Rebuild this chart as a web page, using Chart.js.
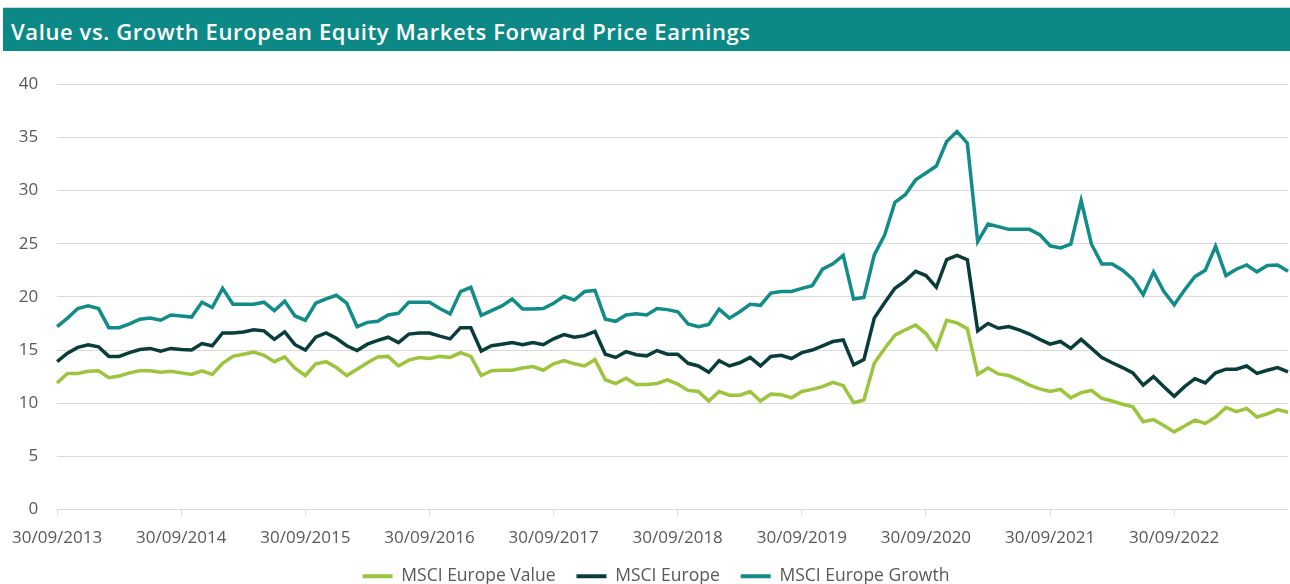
<!DOCTYPE html>
<html>
<head>
<meta charset="utf-8">
<script src="https://cdn.jsdelivr.net/npm/chart.js@4.4.0/dist/chart.umd.min.js"></script>
<style>
  html, body { margin: 0; padding: 0; background: #fff; overflow: hidden; }
  body { width: 1290px; height: 584px; position: relative; font-family: 'Open Sans', sans-serif; }
  #titre {
    position: absolute; left: 3px; top: 7px; width: 1287px; height: 40px;
    padding-top: 3px; line-height: 40px;
    border-top: 1px solid #d4d4d4;
    background: #0c8986; color: #fff;
    font-size: 22px; font-weight: 600; letter-spacing: 0.6px;
    box-sizing: content-box; white-space: nowrap;
  }
  #titre span { padding-left: 8px; }
  #wrap { position: absolute; left: 0; top: 55px; width: 1290px; height: 540px; }
</style>
</head>
<body>
<div id="titre"><span>Value vs. Growth European Equity Markets Forward Price Earnings</span></div>
<div id="wrap"><canvas id="grafico"></canvas></div>
<script>
// monthly, from 30/09/2013 to 31/08/2023
const inicioAno = 2013;
const inicioMes = 9;
const totalMeses = 120;

const nomesSeries = ["MSCI Europe Value", "MSCI Europe", "MSCI Europe Growth"];
const coresSeries = ["#9cc43c", "#083d3b", "#128c89"];

const valorValue = [
  11.9, 12.8, 12.8, 13.0, 13.05, 12.4, 12.55, 12.85, 13.05, 13.05, 12.9, 13.0,
  12.85, 12.7, 13.05, 12.7, 13.75, 14.4, 14.6, 14.8, 14.5, 13.9, 14.35, 13.3,
  12.6, 13.7, 13.9, 13.35, 12.6, 13.2, 13.8, 14.35, 14.4, 13.5, 14.05, 14.3,
  14.2, 14.4, 14.3, 14.75, 14.4, 12.6, 13.05, 13.1, 13.1, 13.3, 13.45, 13.1,
  13.7, 14.0, 13.7, 13.5, 14.1, 12.2, 11.85, 12.35, 11.75, 11.75, 11.85, 12.2,
  11.8, 11.2, 11.1, 10.2, 11.1, 10.75, 10.75, 11.1, 10.2, 10.85, 10.8, 10.5,
  11.1, 11.3, 11.55, 11.95, 11.65, 10.05, 10.3, 13.75, 15.15, 16.4, 16.9, 17.35,
  16.55, 15.15, 17.8, 17.55, 17.0, 12.7, 13.3, 12.75, 12.6, 12.2, 11.7, 11.35,
  11.1, 11.3, 10.5, 11.0, 11.2, 10.45, 10.2, 9.9, 9.65, 8.25, 8.45, 7.9,
  7.3, 7.85, 8.4, 8.1, 8.7, 9.6, 9.2, 9.5, 8.7, 9.0, 9.4, 9.15
];

const valorEurope = [
  13.9, 14.7, 15.25, 15.5, 15.3, 14.4, 14.4, 14.75, 15.05, 15.15, 14.9, 15.15,
  15.05, 15.0, 15.6, 15.4, 16.6, 16.6, 16.7, 16.9, 16.8, 16.0, 16.7, 15.5,
  15.0, 16.2, 16.6, 16.1, 15.4, 14.95, 15.55, 15.9, 16.2, 15.7, 16.5, 16.6,
  16.6, 16.3, 16.05, 17.1, 17.1, 14.9, 15.4, 15.55, 15.7, 15.5, 15.7, 15.5,
  16.05, 16.45, 16.2, 16.35, 16.75, 14.6, 14.3, 14.85, 14.55, 14.45, 14.95, 14.6,
  14.6, 13.75, 13.5, 12.9, 14.0, 13.5, 13.8, 14.3, 13.5, 14.4, 14.5, 14.2,
  14.75, 15.0, 15.4, 15.8, 15.95, 13.6, 14.1, 18.0, 19.45, 20.8, 21.5, 22.4,
  22.0, 20.9, 23.5, 23.9, 23.5, 16.8, 17.5, 17.05, 17.2, 16.9, 16.5, 16.0,
  15.55, 15.8, 15.15, 16.0, 15.15, 14.3, 13.8, 13.35, 12.85, 11.7, 12.5, 11.55,
  10.65, 11.55, 12.3, 11.9, 12.85, 13.2, 13.2, 13.5, 12.8, 13.1, 13.35, 12.95
];

const valorGrowth = [
  17.2, 18.0, 18.9, 19.15, 18.9, 17.1, 17.1, 17.45, 17.9, 18.0, 17.8, 18.3,
  18.2, 18.1, 19.5, 19.0, 20.8, 19.3, 19.3, 19.3, 19.5, 18.7, 19.6, 18.2,
  17.8, 19.4, 19.8, 20.15, 19.4, 17.2, 17.6, 17.7, 18.3, 18.45, 19.5, 19.5,
  19.5, 18.9, 18.4, 20.5, 20.9, 18.25, 18.7, 19.15, 19.8, 18.85, 18.85, 18.9,
  19.4, 20.05, 19.7, 20.5, 20.6, 17.9, 17.7, 18.3, 18.4, 18.3, 18.9, 18.8,
  18.6, 17.45, 17.2, 17.4, 18.85, 18.0, 18.6, 19.3, 19.2, 20.35, 20.5, 20.5,
  20.8, 21.05, 22.6, 23.1, 23.9, 19.8, 19.95, 23.95, 25.8, 28.9, 29.6, 31.0,
  31.65, 32.3, 34.6, 35.55, 34.45, 25.2, 26.85, 26.6, 26.35, 26.35, 26.35, 25.85,
  24.8, 24.6, 24.95, 29.05, 24.95, 23.1, 23.1, 22.5, 21.65, 20.2, 22.35, 20.5,
  19.25, 20.65, 21.9, 22.5, 24.75, 22.0, 22.6, 23.0, 22.35, 22.95, 23.0, 22.4
];

// month-end dates dd/mm/yyyy
const datas = [];
for (let i = 0; i < totalMeses; i++) {
    const d = new Date(inicioAno, inicioMes - 1 + i + 1, 0);
    const dd = String(d.getDate()).padStart(2, "0");
    const mm = String(d.getMonth() + 1).padStart(2, "0");
    datas.push(`${dd}/${mm}/${d.getFullYear()}`);
}

Chart.defaults.font.family = "'Open Sans', sans-serif";
Chart.defaults.font.size = 17;
Chart.defaults.color = "#595959";

const series = [valorValue, valorEurope, valorGrowth];

// the legend in the original sits a little right of centre
const deslocaLegenda = {
    id: "deslocaLegenda",
    afterLayout(chart) {
        chart.legend.left += 12;
        chart.legend.right += 12;
    }
};

new Chart(document.getElementById("grafico"), {
    type: "line",
    data: {
        labels: datas,
        datasets: series.map((valores, k) => ({
            label: nomesSeries[k],
            data: valores,
            borderColor: coresSeries[k],
            backgroundColor: coresSeries[k],
            borderWidth: 3.5,
            pointRadius: 0,
            tension: 0,
            fill: false
        }))
    },
    plugins: [deslocaLegenda],
    options: {
        responsive: true,
        maintainAspectRatio: false,
        animation: false,
        layout: { padding: { top: 29, right: 2, bottom: 0, left: 0 } },
        plugins: {
            tooltip: { enabled: false },
            legend: {
                position: "bottom",
                labels: {
                    boxWidth: 30,
                    boxHeight: 4,
                    padding: 21,
                    color: "#595959",
                    font: { size: 17.5 },
                    generateLabels: chart =>
                        Chart.defaults.plugins.legend.labels.generateLabels(chart)
                            .map(l => ({ ...l, lineWidth: 0, fillStyle: l.strokeStyle }))
                }
            }
        },
        scales: {
            x: {
                afterFit: s => { s.height = 37; },
                border: { display: false },
                grid: { drawOnChartArea: false, drawTicks: true, tickLength: 6, color: "#d9d9d9" },
                ticks: {
                    autoSkip: false,
                    maxRotation: 0,
                    padding: 12,
                    callback: function (v, i) {
                        return i % 12 === 0 ? datas[i] : null;
                    }
                }
            },
            y: {
                min: 0,
                max: 40,
                afterFit: s => { s.width = 53; },
                border: { display: false },
                grid: { color: "#d9d9d9", drawTicks: false },
                ticks: { stepSize: 5, padding: 19 }
            }
        }
    }
});
</script>
</body>
</html>
